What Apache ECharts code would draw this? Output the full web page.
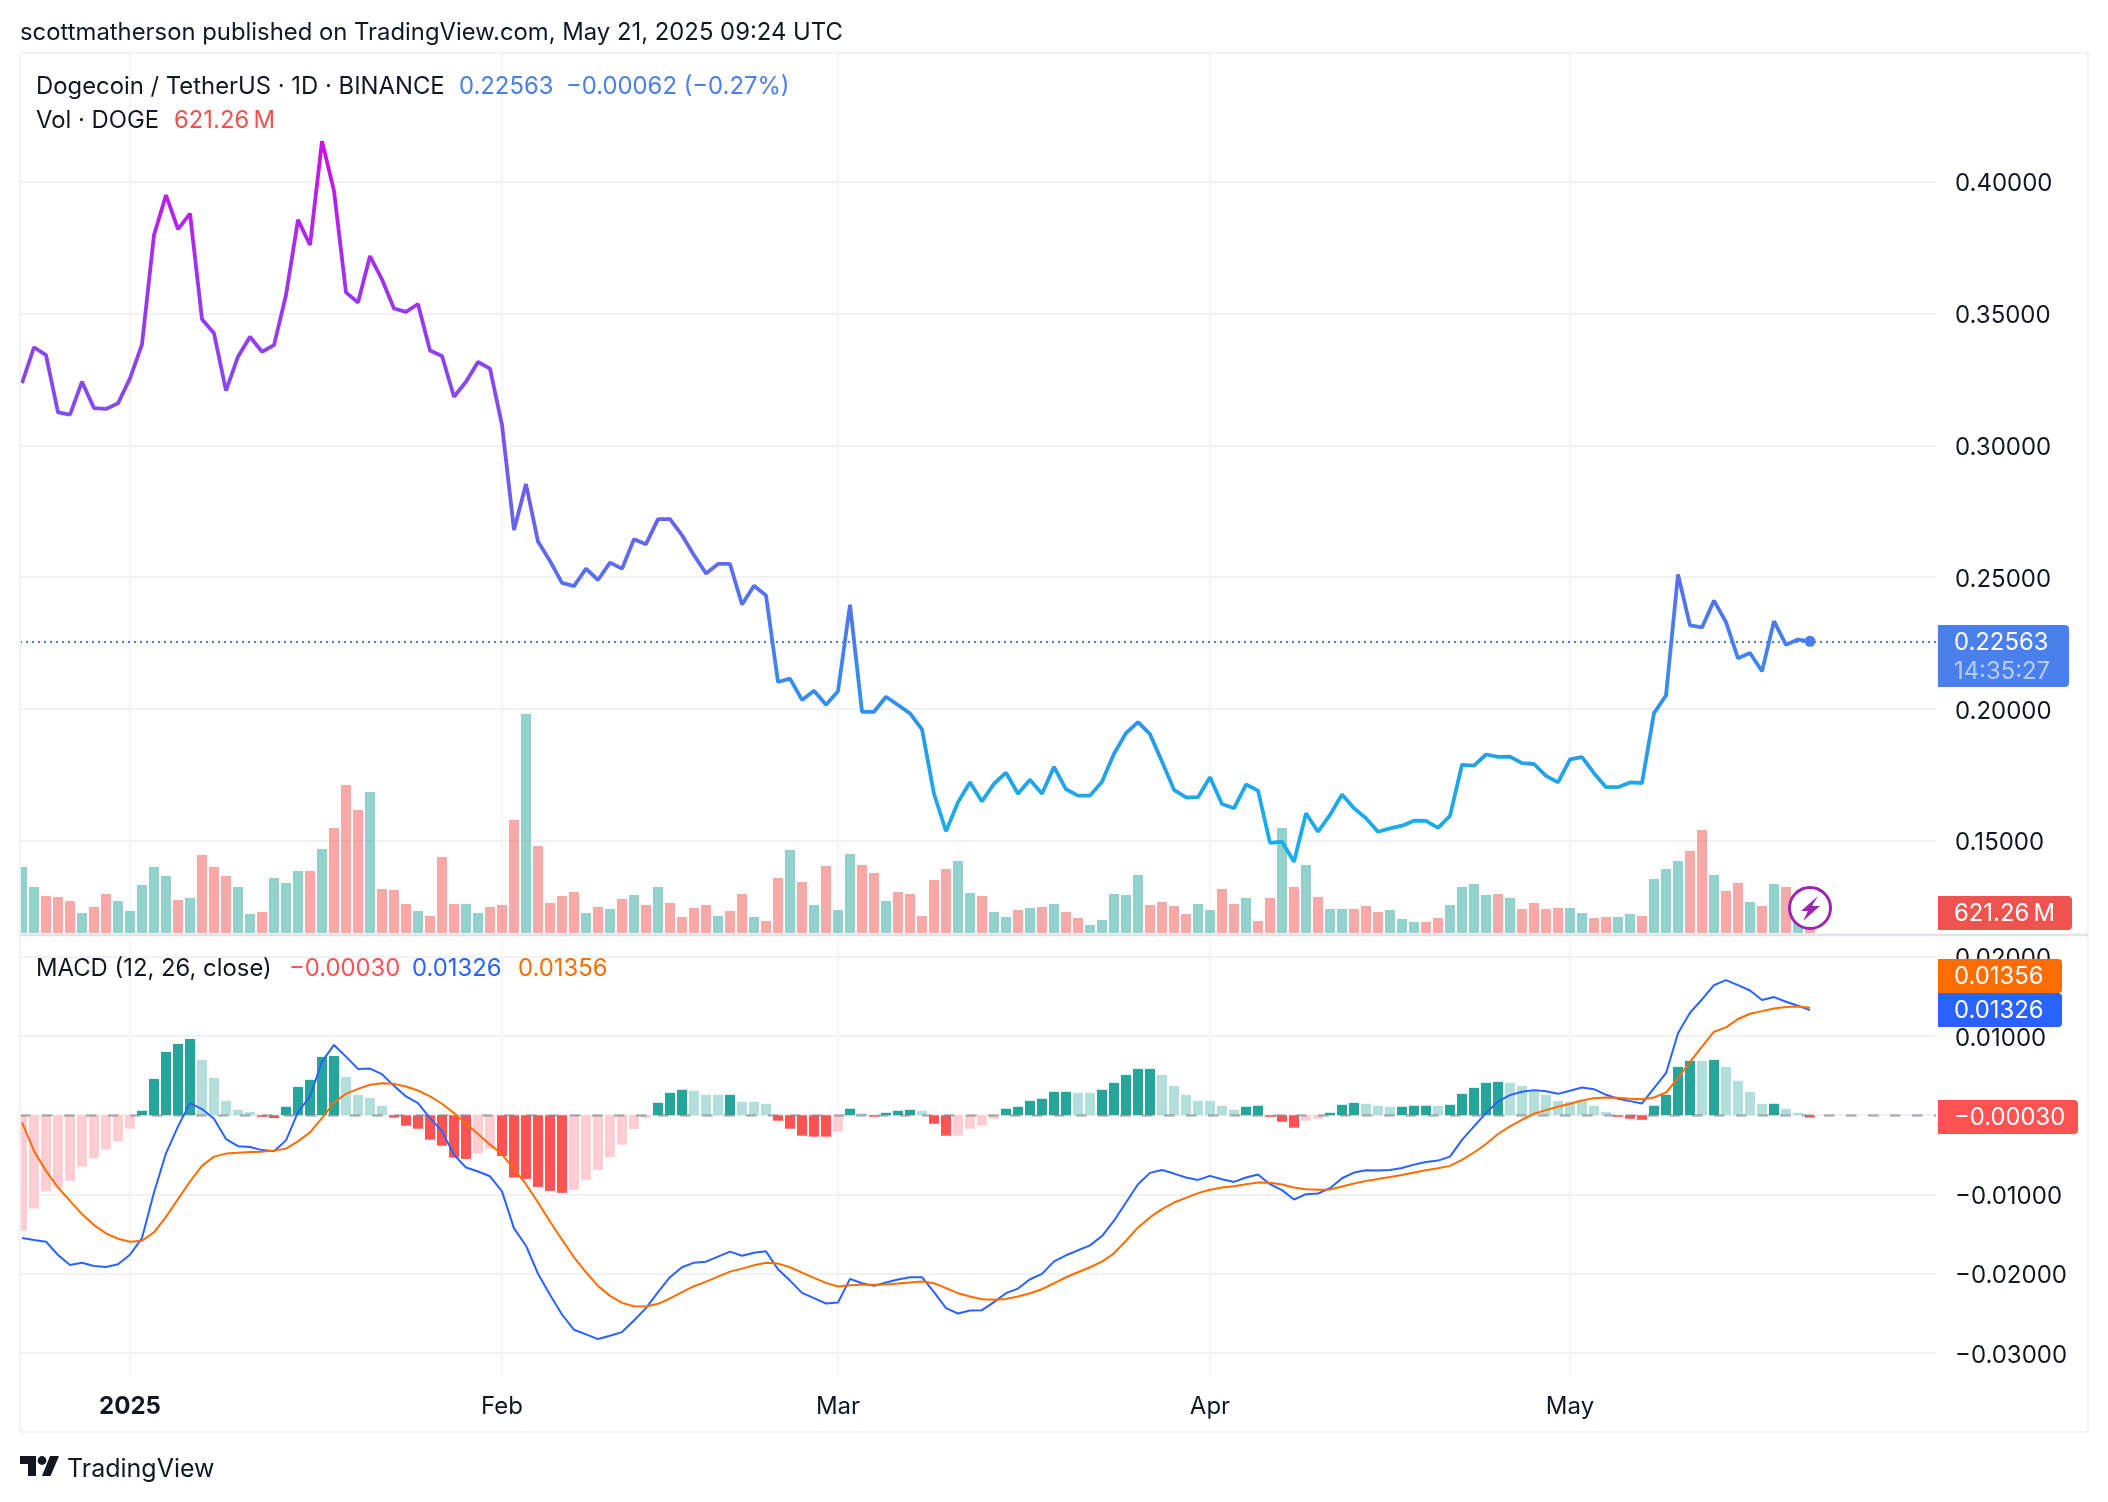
<!DOCTYPE html>
<html>
<head>
<meta charset="utf-8">
<title>DOGE / USDT</title>
<script src="https://cdn.jsdelivr.net/npm/echarts@6/dist/echarts.min.js"></script>
<style>
  html, body { margin: 0; background: #fff; }
  #main { width: 2108px; height: 1502px; }
</style>
</head>
<body>
<div id="main"></div>
<script>
// x values are days counted from Jan 1 2025, first bar is Dec 23
var firstDay = -9;
var monthTicks = [0, 31, 59, 90, 120];
var monthLabels = ['2025', 'Feb', 'Mar', 'Apr', 'May'];
var priceTicks = [0.15, 0.20, 0.25, 0.30, 0.35, 0.40];
var macdTicks = [-0.03, -0.02, -0.01, 0, 0.01, 0.02];

var closePrices = [
  0.3236, 0.3372, 0.3342, 0.3125, 0.3116, 0.3241, 0.3141, 0.3138, 0.3159, 0.3254,
  0.3383, 0.3798, 0.3949, 0.3820, 0.3879, 0.3478, 0.3425, 0.3207, 0.3336, 0.3412,
  0.3355, 0.3380, 0.3570, 0.3855, 0.3760, 0.4154, 0.3965, 0.3580, 0.3542, 0.3718,
  0.3629, 0.3519, 0.3506, 0.3536, 0.3360, 0.3339, 0.3184, 0.3241, 0.3316, 0.3291,
  0.3077, 0.2679, 0.2853, 0.2635, 0.2561, 0.2478, 0.2466, 0.2532, 0.2489, 0.2555,
  0.2532, 0.2644, 0.2625, 0.2720, 0.2720, 0.2659, 0.2583, 0.2514, 0.2550, 0.2550,
  0.2396, 0.2467, 0.2430, 0.2102, 0.2115, 0.2034, 0.2069, 0.2016, 0.2067, 0.2395,
  0.1989, 0.1989, 0.2046, 0.2015, 0.1983, 0.1922, 0.1678, 0.1536, 0.1646, 0.1722,
  0.1649, 0.1716, 0.1758, 0.1678, 0.1731, 0.1678, 0.1780, 0.1695, 0.1671, 0.1671,
  0.1724, 0.1830, 0.1908, 0.1950, 0.1904, 0.1800, 0.1693, 0.1664, 0.1665, 0.1741,
  0.1639, 0.1623, 0.1713, 0.1690, 0.1492, 0.1496, 0.1420, 0.1604, 0.1534, 0.1598,
  0.1675, 0.1623, 0.1585, 0.1534, 0.1547, 0.1557, 0.1576, 0.1575, 0.1549, 0.1594,
  0.1788, 0.1785, 0.1827, 0.1818, 0.1819, 0.1794, 0.1791, 0.1746, 0.1721, 0.1809,
  0.1817, 0.1756, 0.1703, 0.1703, 0.1721, 0.1719, 0.1984, 0.2051, 0.2510, 0.2317,
  0.2309, 0.2411, 0.2329, 0.2192, 0.2212, 0.2143, 0.2333, 0.2243, 0.2263, 0.22563
];

// millions of DOGE
var volumes = [
  3300, 2300, 1850, 1800, 1600, 1000, 1300, 1950, 1600, 1100,
  2400, 3300, 2850, 1650, 1750, 3900, 3300, 2850, 2300, 950,
  1050, 2750, 2500, 3100, 3100, 4200, 5250, 7400, 6150, 7050,
  2200, 2150, 1450, 1100, 850, 3800, 1450, 1450, 1000, 1300,
  1400, 5650, 10950, 4350, 1500, 1850, 2050, 1000, 1300, 1200,
  1700, 1900, 1400, 2300, 1500, 800, 1250, 1400, 850, 1100,
  1950, 800, 600, 2750, 4150, 2550, 1400, 3350, 1150, 3950,
  3400, 3000, 1600, 2050, 1950, 850, 2650, 3200, 3600, 2000,
  1850, 1050, 800, 1150, 1250, 1300, 1450, 1050, 750, 400,
  650, 1950, 1900, 2900, 1400, 1550, 1350, 950, 1450, 1150,
  2200, 1450, 1750, 600, 1750, 5250, 2300, 3400, 1800, 1200,
  1200, 1200, 1350, 1050, 1150, 700, 550, 550, 750, 1400,
  2300, 2450, 1900, 1950, 1750, 1200, 1500, 1200, 1250, 1250,
  1000, 750, 800, 800, 950, 850, 2700, 3200, 3600, 4100,
  5150, 2900, 2100, 2500, 1550, 1350, 2450, 2300, 1000, 621.26
];

// 1 = day closed up, 0 = day closed down
var volumeUp = [
  1, 1, 0, 0, 0, 1, 0, 0, 1, 1,
  1, 1, 1, 0, 1, 0, 0, 0, 1, 1,
  0, 1, 1, 1, 0, 1, 0, 0, 0, 1,
  0, 0, 0, 1, 0, 0, 0, 1, 1, 0,
  0, 0, 1, 0, 0, 0, 0, 1, 0, 1,
  0, 1, 0, 1, 0, 0, 0, 0, 1, 0,
  0, 1, 0, 0, 1, 0, 1, 0, 1, 1,
  0, 0, 1, 0, 0, 0, 0, 0, 1, 1,
  0, 1, 1, 0, 1, 0, 1, 0, 0, 1,
  1, 1, 1, 1, 0, 0, 0, 0, 1, 1,
  0, 0, 1, 0, 0, 1, 0, 1, 0, 1,
  1, 0, 0, 0, 1, 1, 1, 0, 0, 1,
  1, 1, 1, 0, 1, 0, 0, 0, 0, 1,
  1, 0, 0, 1, 1, 0, 1, 1, 1, 0,
  0, 1, 0, 0, 1, 0, 1, 0, 1, 0
];

var macdLine = [
  -0.0155, -0.01574, -0.01595, -0.01763, -0.01889, -0.0186, -0.01901, -0.01914, -0.0188, -0.01759,
  -0.0155, -0.00975, -0.0048, -0.0014, 0.00153, 0.00078, -0.00044, -0.003, -0.0039, -0.004,
  -0.0044, -0.00455, -0.00317, 0.0004, 0.00237, 0.00677, 0.00887, 0.0074, 0.00585, 0.00589,
  0.00518, 0.00371, 0.00237, 0.00153, -0.00036, -0.002, -0.00500, -0.0066, -0.0071, -0.0077,
  -0.0096, -0.01428, -0.01646, -0.02, -0.02266, -0.02514, -0.02707, -0.02765, -0.02824, -0.02782,
  -0.02736, -0.02589, -0.02434, -0.02233, -0.02044, -0.01918, -0.0186, -0.01847, -0.01784, -0.01721,
  -0.01772, -0.01734, -0.01717, -0.01943, -0.02086, -0.02241, -0.02308, -0.02375, -0.02363, -0.02065,
  -0.0212, -0.02153, -0.02111, -0.02073, -0.02044, -0.02044, -0.02233, -0.02434, -0.02501, -0.02463,
  -0.02459, -0.02358, -0.02245, -0.02187, -0.02069, -0.02002, -0.01843, -0.01767, -0.01704, -0.01642,
  -0.01524, -0.01331, -0.01101, -0.0087, -0.00727, -0.0069, -0.00736, -0.00786, -0.00816, -0.00765,
  -0.00807, -0.00841, -0.00786, -0.00748, -0.0087, -0.00945, -0.01063, -0.00996, -0.00987, -0.0092,
  -0.00795, -0.00723, -0.00694, -0.00698, -0.0069, -0.00665, -0.00623, -0.00589, -0.00572, -0.00522,
  -0.0031, -0.0014, 0.00027, 0.00174, 0.00254, 0.00296, 0.00317, 0.00304, 0.0027, 0.00308,
  0.0035, 0.00329, 0.00258, 0.00208, 0.00178, 0.00149, 0.00342, 0.0053, 0.01034, 0.01294,
  0.01461, 0.01642, 0.01704, 0.01642, 0.01574, 0.01453, 0.01491, 0.01432, 0.01382, 0.01326
];

var signalLine = [
  -0.0009, -0.0045, -0.00702, -0.00912, -0.0108, -0.01247, -0.01386, -0.01491, -0.01558, -0.01595,
  -0.01583, -0.01478, -0.01281, -0.01059, -0.00836, -0.00639, -0.00522, -0.00484, -0.00472, -0.00463,
  -0.00459, -0.00445, -0.00421, -0.0033, -0.00216, -0.00036, 0.00161, 0.0027, 0.00333, 0.00384,
  0.00405, 0.00396, 0.00363, 0.00312, 0.00237, 0.00145, 0.00027, -0.00107, -0.00237, -0.00371,
  -0.00493, -0.00681, -0.0087, -0.01101, -0.0134, -0.0157, -0.01792, -0.01981, -0.02153, -0.02279,
  -0.02367, -0.02409, -0.02413, -0.02379, -0.02312, -0.02233, -0.02157, -0.02099, -0.02036, -0.01973,
  -0.01935, -0.01893, -0.0186, -0.01872, -0.01918, -0.01985, -0.02052, -0.02115, -0.02161, -0.02145,
  -0.0214, -0.0214, -0.02136, -0.02124, -0.02111, -0.02099, -0.0212, -0.02182, -0.02245, -0.02287,
  -0.02321, -0.02329, -0.02317, -0.02287, -0.02245, -0.02195, -0.0212, -0.02044, -0.01981, -0.01918,
  -0.01847, -0.01742, -0.01583, -0.01415, -0.01289, -0.01184, -0.01101, -0.01042, -0.00983, -0.00941,
  -0.00912, -0.00895, -0.0087, -0.00849, -0.00853, -0.00874, -0.00912, -0.00933, -0.00941, -0.00937,
  -0.00899, -0.00862, -0.00828, -0.00803, -0.00778, -0.00753, -0.00723, -0.00694, -0.00669, -0.00639,
  -0.00564, -0.00470, -0.00363, -0.00237, -0.0014, -0.00057, 0.00019, 0.00065, 0.00107, 0.00145,
  0.00187, 0.00216, 0.00224, 0.0022, 0.00208, 0.00203, 0.00224, 0.00287, 0.00468, 0.00673,
  0.00866, 0.01054, 0.01109, 0.01214, 0.01281, 0.01314, 0.01348, 0.01365, 0.01373, 0.01356
];

var histogram = [
  -0.01457, -0.01176, -0.0096, -0.00912, -0.00828, -0.00648, -0.00543, -0.0043, -0.00333, -0.0017,
  0.00057, 0.00459, 0.00799, 0.009, 0.00962, 0.00698, 0.00472, 0.00182, 0.00069, 0.00044,
  -0.0002, -0.00035, 0.00107, 0.00358, 0.00447, 0.00736, 0.00748, 0.00484, 0.00258, 0.0022,
  0.0012, -0.0003, -0.00132, -0.0017, -0.00308, -0.00384, -0.00535, -0.00551, -0.00484, -0.0042,
  -0.00514, -0.00786, -0.00803, -0.00904, -0.00954, -0.00979, -0.00941, -0.00815, -0.0069, -0.00526,
  -0.00371, -0.00174, -0.0003, 0.00157, 0.00283, 0.00321, 0.00308, 0.00258, 0.00258, 0.00258,
  0.0017, 0.0017, 0.00145, -0.00069, -0.0017, -0.00258, -0.0027, -0.0027, -0.00208, 0.00082,
  0.00023, -0.00019, 0.00031, 0.00057, 0.00069, 0.00057, -0.00107, -0.00258, -0.00258, -0.0017,
  -0.00132, -0.00044, 0.00082, 0.00107, 0.00182, 0.00208, 0.00296, 0.00296, 0.00283, 0.00283,
  0.00321, 0.00409, 0.00509, 0.00585, 0.00585, 0.00509, 0.00371, 0.00258, 0.00182, 0.00182,
  0.0012, 0.00069, 0.00107, 0.0012, -0.0002, -0.00082, -0.00157, -0.00069, -0.00044, 0.00031,
  0.00132, 0.00157, 0.00145, 0.0012, 0.00107, 0.00107, 0.0012, 0.0012, 0.0012, 0.00132,
  0.0027, 0.00346, 0.00409, 0.00421, 0.00409, 0.00371, 0.00308, 0.00258, 0.00182, 0.0017,
  0.00195, 0.0012, 0.00044, -0.0002, -0.00044, -0.00057, 0.0012, 0.00258, 0.0061, 0.00686,
  0.00686, 0.00698, 0.0061, 0.00434, 0.00296, 0.00145, 0.00145, 0.00082, 0.00031, -0.0003
];

// 1 = bar is growing away from zero, 0 = bar is fading
var histGrowing = [
  0, 0, 0, 0, 0, 0, 0, 0, 0, 0,
  1, 1, 1, 1, 1, 0, 0, 0, 0, 0,
  1, 1, 1, 1, 1, 1, 1, 0, 0, 0,
  0, 1, 1, 1, 1, 1, 1, 1, 0, 0,
  1, 1, 1, 1, 1, 1, 0, 0, 0, 0,
  0, 0, 0, 1, 1, 1, 0, 0, 0, 1,
  0, 0, 0, 1, 1, 1, 1, 1, 0, 1,
  0, 1, 1, 1, 1, 0, 1, 1, 0, 0,
  0, 0, 1, 1, 1, 1, 1, 1, 0, 0,
  1, 1, 1, 1, 1, 0, 0, 0, 0, 0,
  0, 0, 1, 1, 1, 1, 1, 0, 0, 1,
  1, 1, 0, 0, 0, 1, 1, 1, 0, 1,
  1, 1, 1, 1, 0, 0, 0, 0, 0, 0,
  0, 0, 0, 1, 1, 1, 1, 1, 1, 1,
  0, 1, 0, 0, 0, 0, 1, 0, 0, 1
];

var lastPrice = closePrices[closePrices.length - 1];
var font = 'Inter, "Noto Sans", sans-serif';
var gridColor = '#f2f2f4';
var labelColor = '#131722';

function withDays(values) {
  return values.map(function (v, i) { return [firstDay + i, v]; });
}

function plainFixed(v) {
  return (v < 0 ? '\u2212' : '') + Math.abs(v).toFixed(5);
}

// text placed at its left edge, middle of the line
function label(x, y, text, color, size) {
  return {
    type: 'text',
    z: 200,
    style: { x: x, y: y, text: text, fill: color, font: (size || 23.85) + 'px ' + font, textVerticalAlign: 'middle' }
  };
}

// coloured value tag on the price scale
function tag(x, y, w, h, color) {
  return { type: 'rect', z: 150, shape: { x: x, y: y, width: w, height: h, r: [0, 4, 4, 0] }, style: { fill: color } };
}

function frameLine(x1, y1, x2, y2, color, width) {
  return { type: 'line', z: 101, shape: { x1: x1, y1: y1, x2: x2, y2: y2 }, style: { stroke: color, lineWidth: width } };
}

// top aligned with a short line height puts the digits just under the tick
var sideAxisLabel = {
  color: labelColor, fontFamily: font, fontSize: 24, margin: 19,
  verticalAlign: 'top', lineHeight: 5, formatter: plainFixed
};

var option = {
  backgroundColor: '#ffffff',
  animation: false,
  grid: [
    { left: 20, top: 53, width: 1916, height: 882 },
    { left: 20, top: 53, width: 1916, height: 880 },
    { left: 20, top: 937, width: 1916, height: 439 }
  ],
  xAxis: [0, 1, 2].map(function (n) {
    return {
      type: 'value',
      gridIndex: n,
      min: -9.1667,
      max: 150.5,
      show: n !== 1,
      axisLine: { show: false, onZero: false },
      axisTick: { show: false, customValues: monthTicks },
      splitLine: { show: n !== 1, lineStyle: { color: gridColor, width: 1.5 } },
      axisLabel: {
        show: n === 2,
        customValues: monthTicks,
        margin: 19,
        color: labelColor,
        fontFamily: font,
        fontSize: 24,
        formatter: function (v) {
          var text = monthLabels[monthTicks.indexOf(v)];
          return v === 0 ? '{year|' + text + '}' : text;
        },
        rich: { year: { fontWeight: 'bold', fontSize: 24, fontFamily: font, color: labelColor } }
      }
    };
  }),
  yAxis: [
    {
      gridIndex: 0,
      position: 'right',
      min: 0.11423,
      max: 0.44882,
      axisLine: { show: false },
      axisTick: { show: false, customValues: priceTicks },
      splitLine: { lineStyle: { color: gridColor, width: 2 } },
      axisLabel: Object.assign({ customValues: priceTicks }, sideAxisLabel)
    },
    { gridIndex: 1, show: false, min: 0, max: 44000 },
    {
      gridIndex: 2,
      position: 'right',
      min: -0.0329,
      max: 0.02249,
      axisLine: { show: false },
      axisTick: { show: false, customValues: macdTicks },
      splitLine: { lineStyle: { color: gridColor, width: 2 } },
      axisLabel: Object.assign({ customValues: macdTicks }, sideAxisLabel)
    }
  ],
  series: [
    {
      name: 'Vol',
      type: 'bar',
      xAxisIndex: 1,
      yAxisIndex: 1,
      barWidth: 10,
      z: 1,
      data: withDays(volumes),
      itemStyle: {
        color: function (p) {
          return volumeUp[p.dataIndex] ? 'rgba(38,166,154,0.5)' : 'rgba(239,83,80,0.5)';
        }
      }
    },
    {
      name: 'Price',
      type: 'line',
      xAxisIndex: 0,
      yAxisIndex: 0,
      symbol: 'none',
      z: 5,
      data: withDays(closePrices),
      lineStyle: {
        width: 3.8,
        color: new echarts.graphic.LinearGradient(0, 0, 0, 1, [
          { offset: 0, color: '#cf10e8' },
          { offset: 0.2, color: '#9e33f0' },
          { offset: 0.6, color: '#5b6ef0' },
          { offset: 0.78, color: '#3091ec' },
          { offset: 0.9, color: '#1fa7ea' },
          { offset: 1, color: '#1aaeea' }
        ])
      },
      markLine: {
        silent: true,
        symbol: 'none',
        precision: 5,
        label: { show: false },
        lineStyle: { color: '#4a7ef0', type: [2, 4], width: 2 },
        data: [{ yAxis: lastPrice }]
      }
    },
    {
      name: 'Last',
      type: 'scatter',
      xAxisIndex: 0,
      yAxisIndex: 0,
      symbolSize: 11,
      z: 6,
      itemStyle: { color: '#4a7dee', opacity: 1 },
      data: [[firstDay + closePrices.length - 1, lastPrice]]
    },
    {
      name: 'Histogram',
      type: 'bar',
      xAxisIndex: 2,
      yAxisIndex: 2,
      barWidth: 10,
      z: 2,
      data: withDays(histogram),
      itemStyle: {
        color: function (p) {
          var grow = histGrowing[p.dataIndex];
          if (histogram[p.dataIndex] >= 0) return grow ? '#26a69a' : '#b2dfdb';
          return grow ? '#ff5252' : '#ffcdd2';
        }
      },
      markLine: {
        silent: true,
        symbol: 'none',
        label: { show: false },
        lineStyle: { color: 'rgba(120,123,134,0.55)', type: [10.5, 11.5], width: 2.5 },
        data: [{ yAxis: 0 }]
      }
    },
    {
      name: 'MACD',
      type: 'line',
      xAxisIndex: 2,
      yAxisIndex: 2,
      symbol: 'none',
      z: 5,
      data: withDays(macdLine),
      lineStyle: { color: '#2962ff', width: 2 }
    },
    {
      name: 'Signal',
      type: 'line',
      xAxisIndex: 2,
      yAxisIndex: 2,
      symbol: 'none',
      z: 6,
      data: withDays(signalLine),
      lineStyle: { color: '#ff6d00', width: 2 }
    }
  ],
  graphic: [
    // first bars are cut at the left edge of the panes
    { type: 'rect', z: 100, shape: { x: 0, y: 53, width: 20, height: 1380 }, style: { fill: '#ffffff' } },

    // pane frame
    frameLine(20, 53, 2088, 53, gridColor, 2),
    frameLine(20, 53, 20, 1432, gridColor, 2),
    frameLine(2088, 53, 2088, 1432, gridColor, 2),
    frameLine(20, 1432, 2088, 1432, gridColor, 2),
    frameLine(20, 935, 2088, 935, '#e0e3eb', 2.5),

    // header and legends
    label(20, 33, 'scottmatherson published on TradingView.com, May 21, 2025 09:24 UTC', labelColor),
    label(36, 87, 'Dogecoin / TetherUS \u00b7 1D \u00b7 BINANCE', labelColor),
    label(459, 87, '0.22563', '#4a7dee'),
    label(566, 87, '\u22120.00062 (\u22120.27%)', '#4a7dee'),
    label(36, 121, 'Vol \u00b7 DOGE', labelColor),
    label(174, 121, '621.26\u2009M', '#ef5350'),
    label(36, 969, 'MACD (12, 26, close)', labelColor),
    label(289, 969, '\u22120.00030', '#ff5252'),
    label(412, 969, '0.01326', '#2962ff'),
    label(518, 969, '0.01356', '#ff6d00'),

    // price scale tags
    tag(1938, 625, 131, 62, '#4a80ee'),
    label(1954, 643, '0.22563', '#ffffff'),
    label(1954, 672, '14:35:27', 'rgba(255,255,255,0.6)'),
    tag(1938, 896, 134, 34, '#ef5350'),
    label(1954, 914, '621.26\u2009M', '#ffffff'),
    tag(1938, 959, 124, 34, '#ff6d00'),
    label(1954, 977, '0.01356', '#ffffff'),
    tag(1938, 993, 124, 34, '#2962ff'),
    label(1954, 1011, '0.01326', '#ffffff'),
    tag(1938, 1100, 140, 34, '#ff5252'),
    label(1954, 1118, '\u22120.00030', '#ffffff'),

    // bolt badge over the last volume bars
    { type: 'circle', z: 160, shape: { cx: 1810, cy: 908, r: 20.5 }, style: { fill: '#ffffff', stroke: '#9c27b0', lineWidth: 3 } },
    {
      type: 'polygon', z: 161,
      shape: { points: [[1818, 896], [1801, 911], [1808, 911], [1803, 921], [1820, 906], [1812, 906]] },
      style: { fill: '#9c27b0' }
    },

    // logo and name at the bottom
    { type: 'polygon', z: 200, shape: { points: [[20, 1456], [36, 1456], [36, 1476], [28, 1476], [28, 1464], [20, 1464]] }, style: { fill: labelColor } },
    { type: 'circle', z: 200, shape: { cx: 42, cy: 1460.5, r: 4.4 }, style: { fill: labelColor } },
    { type: 'polygon', z: 200, shape: { points: [[50, 1456], [59, 1456], [50.5, 1476], [42, 1476]] }, style: { fill: labelColor } },
    label(67, 1469, 'TradingView', labelColor, 25)
  ]
};

var chart = echarts.init(document.getElementById('main'), null, { renderer: 'canvas' });
chart.setOption(option);
</script>
</body>
</html>
